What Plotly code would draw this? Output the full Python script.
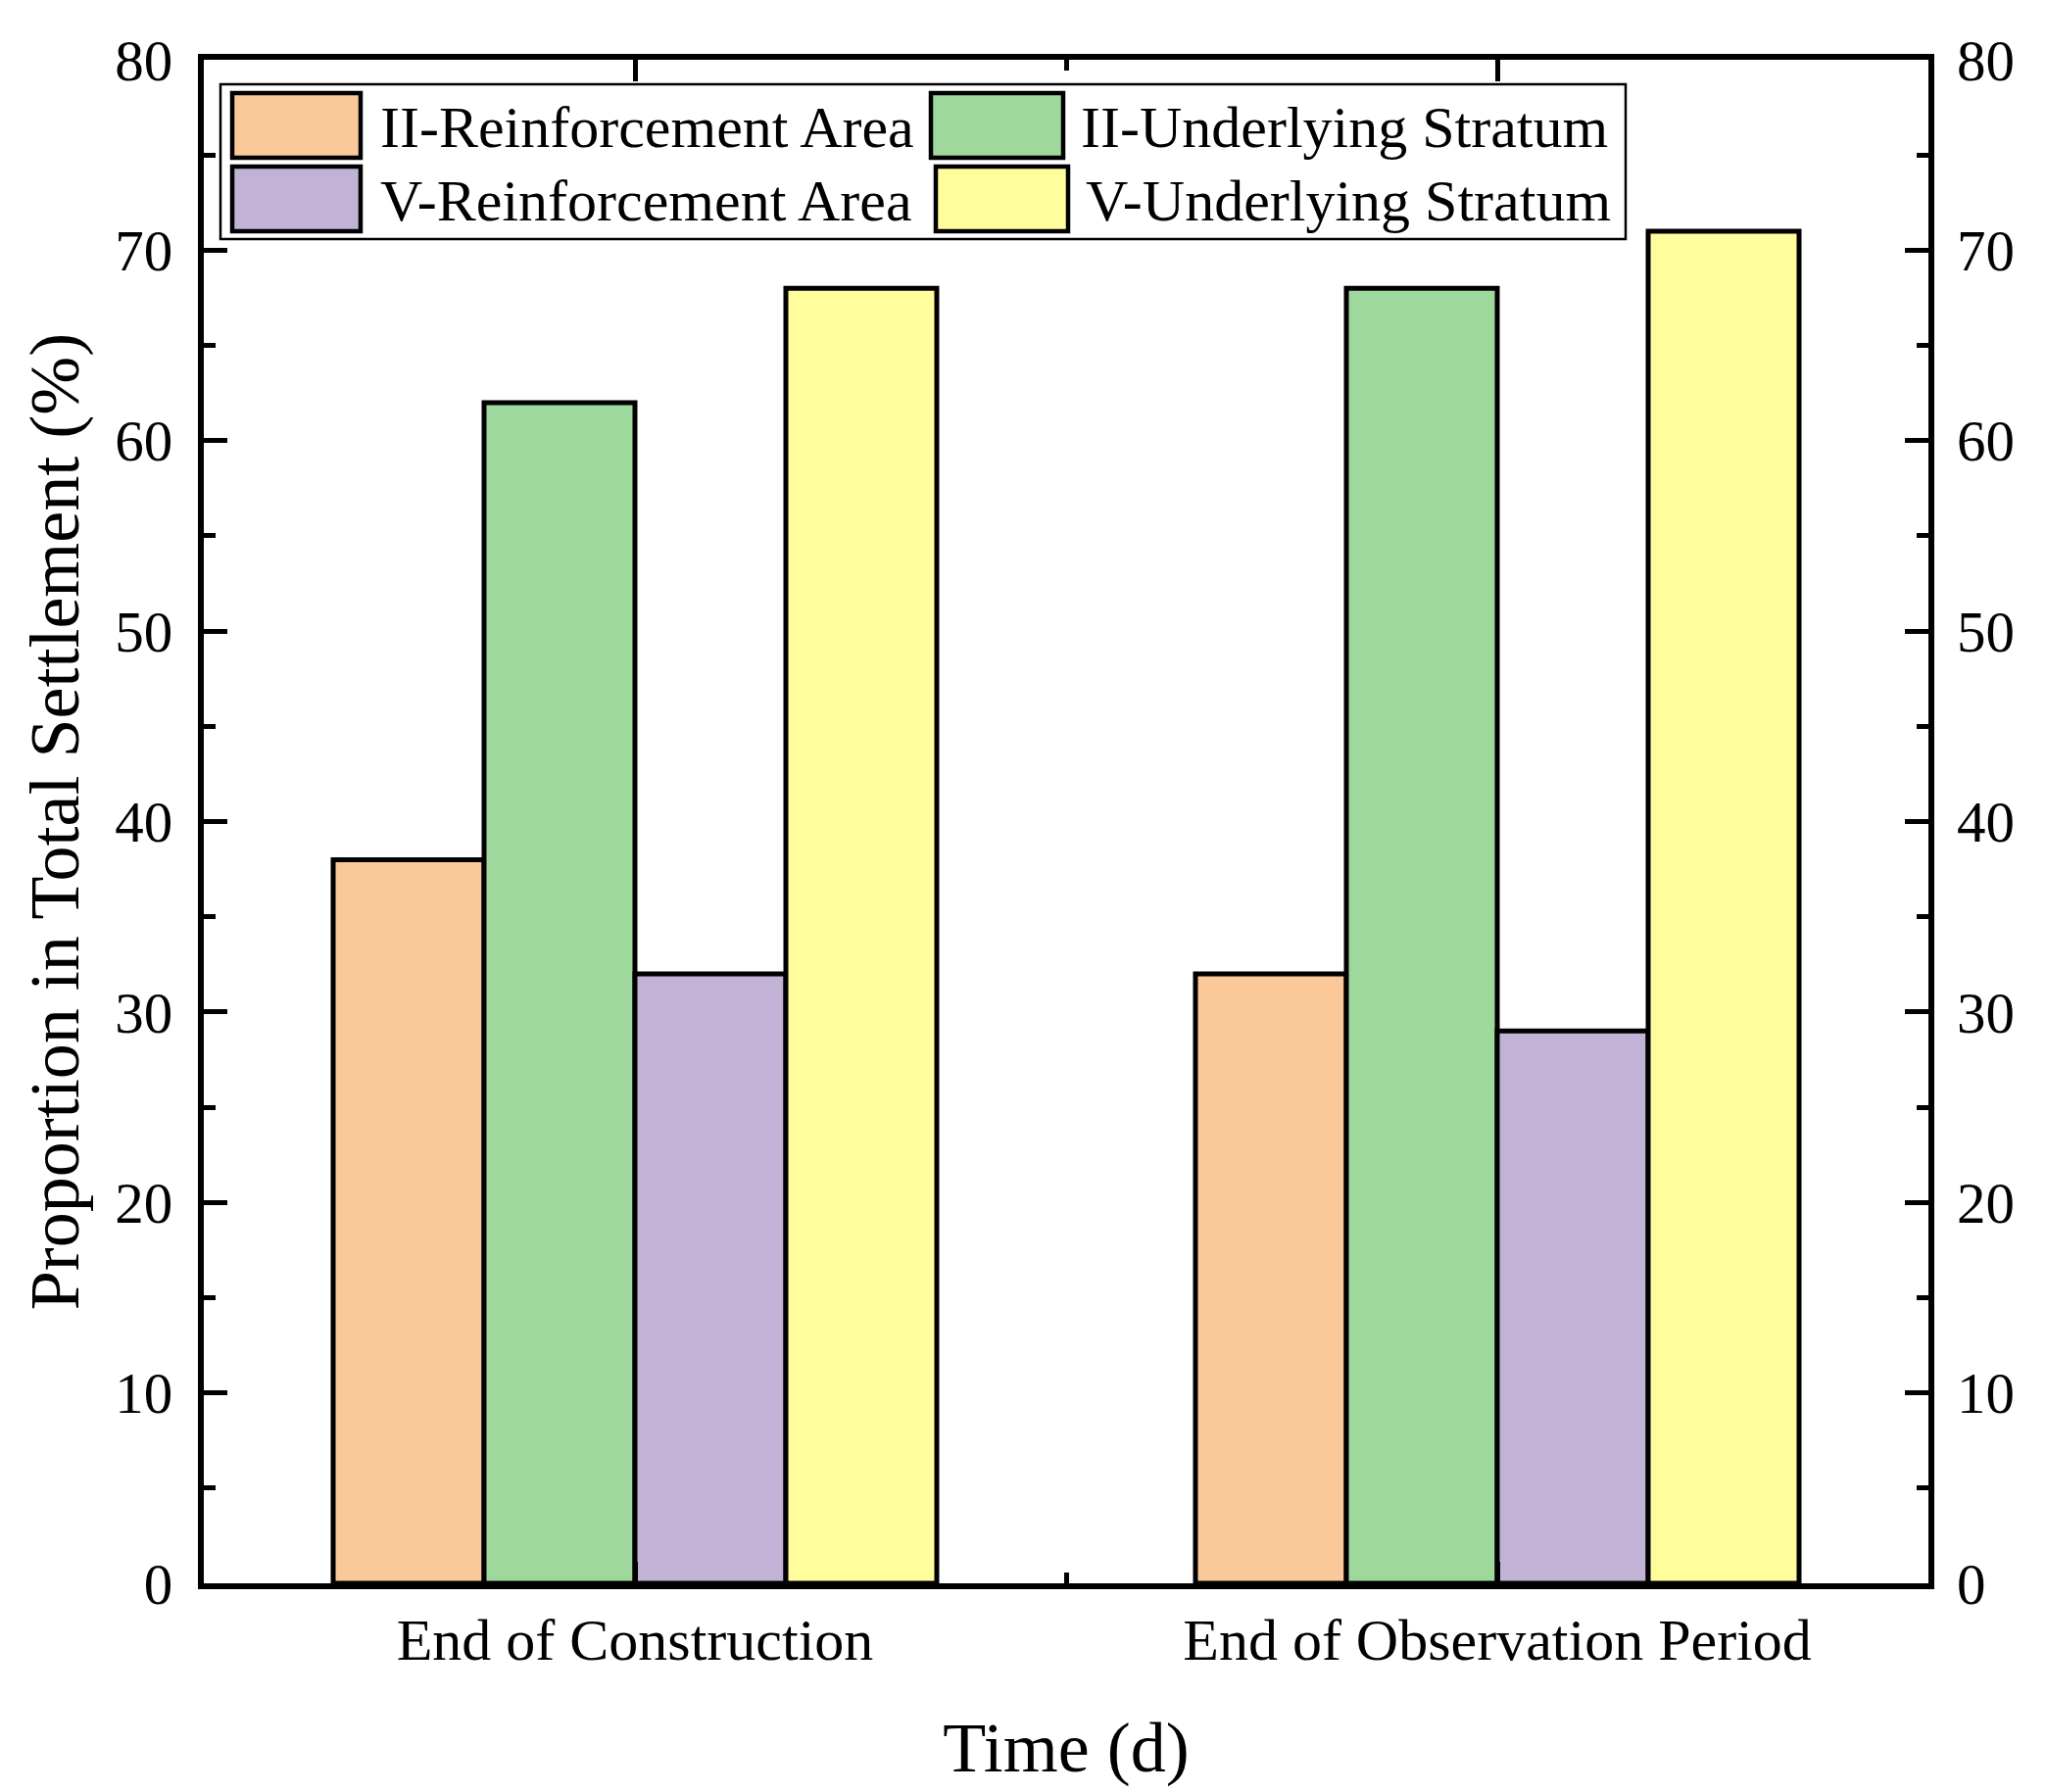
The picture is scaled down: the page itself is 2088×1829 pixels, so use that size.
import plotly.graph_objects as go

categories = ["End of Construction", "End of Observation Period"]
series_names = ["II-Reinforcement Area", "II-Underlying Stratum",
                "V-Reinforcement Area", "V-Underlying Stratum"]
ii_reinforcement = [38, 32]
ii_underlying = [62, 68]
v_reinforcement = [32, 29]
v_underlying = [68, 71]
y_ticks = [0, 10, 20, 30, 40, 50, 60, 70, 80]

colors = ["#FBC999", "#9ED89D", "#C2B2D6", "#FFFD9C"]
values = [ii_reinforcement, ii_underlying, v_reinforcement, v_underlying]

W, H = 2088, 1829
L, R, T, B = 200, 1960, 53, 1608
FONT = "Liberation Serif"

xidx = list(range(len(categories)))

fig = go.Figure()
for name, vals, col in zip(series_names, values, colors):
    fig.add_trace(go.Bar(x=xidx, y=vals, name=name, showlegend=False,
                         marker=dict(color=col, line=dict(color="black", width=5))))

def px(xp):
    return (xp - L) / (R - L)

def py(yp):
    return (B - yp) / (B - T)

shapes = []
annotations = []
# legend box
shapes.append(dict(type="rect", xref="paper", yref="paper",
                   x0=px(217), x1=px(1651), y0=py(78), y1=py(236),
                   line=dict(color="black", width=2.5), fillcolor="white", layer="above"))
legend_slots = [
    (229, 360, 87, 153, 378),
    (942, 1077, 87, 153, 1093),
    (229, 360, 162, 228, 378),
    (947, 1082, 162, 228, 1098),
]
for (x0, x1, y0, y1, tx), name, col in zip(legend_slots, series_names, colors):
    shapes.append(dict(type="rect", xref="paper", yref="paper",
                       x0=px(x0), x1=px(x1), y0=py(y0), y1=py(y1),
                       line=dict(color="black", width=4.5), fillcolor=col, layer="above"))
    annotations.append(dict(xref="paper", yref="paper", x=px(tx), y=py((y0 + y1) / 2 + 2),
                            text=name, showarrow=False, xanchor="left", yanchor="middle",
                            font=dict(family=FONT, size=60, color="black")))

fig.update_layout(
    width=W, height=H,
    margin=dict(l=L, r=W - R, t=T, b=H - B),
    plot_bgcolor="white", paper_bgcolor="white",
    barmode="group", bargap=0.3, bargroupgap=0,
    font=dict(family=FONT, color="black"),
    shapes=shapes, annotations=annotations,
    xaxis=dict(range=[-0.5, 1.5], tickvals=xidx, ticktext=categories,
               ticks="inside", ticklen=22, tickwidth=5, tickcolor="black",
               minor=dict(tickvals=[0.5], ticks="inside", ticklen=11, tickwidth=5, tickcolor="black"),
               showline=True, linewidth=6, linecolor="black", mirror="ticks",
               showgrid=False, zeroline=False,
               tickfont=dict(family=FONT, size=60, color="black"),
               title=dict(text="Time (d)", font=dict(family=FONT, size=72, color="black"), standoff=54)),
    yaxis=dict(range=[0, 80], tickvals=y_ticks, ticks="inside", ticklen=24, tickwidth=5,
               tickcolor="black",
               minor=dict(dtick=5, ticks="inside", ticklen=12, tickwidth=5, tickcolor="black"),
               showline=True, linewidth=6, linecolor="black", mirror="ticks",
               showgrid=False, zeroline=False, ticklabelstandoff=14,
               tickfont=dict(family=FONT, size=59, color="black"),
               title=dict(text="Proportion in Total Settlement (%)",
                          font=dict(family=FONT, size=72, color="black"), standoff=15)),
    yaxis2=dict(range=[0, 80], tickvals=y_ticks, overlaying="y", side="right",
                ticks="", showline=False, showgrid=False, zeroline=False,
                ticklabelstandoff=28,
                tickfont=dict(family=FONT, size=59, color="black")),
)
fig.add_trace(go.Scatter(x=[None], y=[None], yaxis="y2", showlegend=False, hoverinfo="skip"))

fig.write_html("out.html")
